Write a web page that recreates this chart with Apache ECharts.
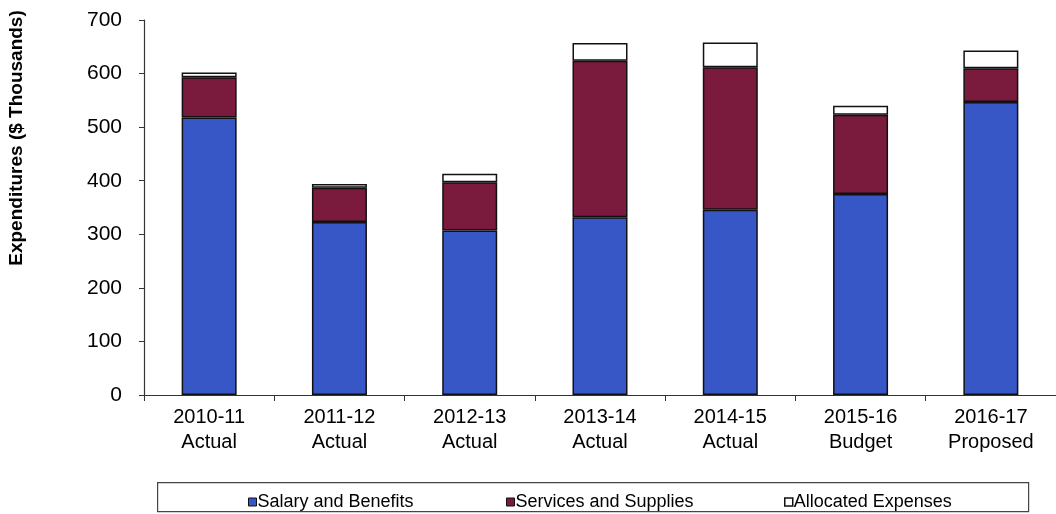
<!DOCTYPE html>
<html>
<head>
<meta charset="utf-8">
<script src="https://cdn.jsdelivr.net/npm/echarts@6/dist/echarts.min.js"></script>
<style>
  html, body { margin: 0; padding: 0; background: #fff; }
  #chart { width: 1056px; height: 514px; }
</style>
</head>
<body>
<div id="chart"></div>
<script>
// Fiscal years and their status
const categories = ['2010-11\nActual', '2011-12\nActual', '2012-13\nActual', '2013-14\nActual',
                    '2014-15\nActual', '2015-16\nBudget', '2016-17\nProposed'];
// Expenditures in $ thousands, stacked per year
const salaryAndBenefits   = [518, 323, 307, 332, 346, 375, 547];
const servicesAndSupplies = [75, 64, 90, 292, 266, 148, 63];
const allocatedExpenses   = [9, 7, 16, 33, 46, 17, 33];
const yTicks = [0, 100, 200, 300, 400, 500, 600, 700];

const FONT = '"Liberation Sans", Arial, sans-serif';
const chart = echarts.init(document.getElementById('chart'));

function barSeries(name, data, color) {
  return {
    name, type: 'bar', stack: 'total', data,
    barWidth: 55,
    itemStyle: { color, borderColor: '#111', borderWidth: 1.5 },
    emphasis: { disabled: true }
  };
}

const legendBase = {
  top: 488, itemWidth: 8, itemHeight: 8, icon: 'rect',
  textStyle: { fontFamily: FONT, fontSize: 18, color: '#000', padding: [0, 0, 0, -4] },
  selectedMode: false
};

chart.setOption({
  animation: false,
  backgroundColor: '#fff',
  grid: { left: 144, top: 20, bottom: 119, right: -12, containLabel: false },
  xAxis: {
    type: 'category', data: categories,
    axisLine: { lineStyle: { color: '#333', width: 1.2 } },
    axisTick: { show: true, length: 6, lineStyle: { color: '#333' } },
    axisLabel: { fontFamily: FONT, fontSize: 20, color: '#000', lineHeight: 25, margin: 10 }
  },
  yAxis: {
    type: 'value', min: yTicks[0], max: yTicks[yTicks.length - 1], interval: 100,
    splitLine: { show: false },
    axisLine: { show: true, lineStyle: { color: '#333', width: 1.2 } },
    axisTick: { show: true, length: 5, lineStyle: { color: '#333' } },
    axisLabel: { fontFamily: FONT, fontSize: 21, color: '#000', margin: 22 }
  },
  legend: [
    Object.assign({}, legendBase, { left: 243, data: [{ name: 'Salary and Benefits', itemStyle: { borderColor: '#111', borderWidth: 1 } }] }),
    Object.assign({}, legendBase, { left: 501, data: [{ name: 'Services and Supplies', itemStyle: { borderColor: '#111', borderWidth: 1 } }] }),
    Object.assign({}, legendBase, { left: 779, data: [{ name: 'Allocated Expenses', itemStyle: { borderColor: '#111', borderWidth: 1.5 } }] })
  ],
  graphic: [
    {
      type: 'rect', left: 157, top: 482, z: -1,
      shape: { width: 871, height: 29 },
      style: { fill: '#fff', stroke: '#444', lineWidth: 1.2 }
    },
    {
      type: 'text', x: 17, y: 138, rotation: Math.PI / 2,
      style: {
        text: 'Expenditures ($ Thousands)', fontFamily: FONT, fontSize: 19, fontWeight: 'bold',
        fill: '#000', align: 'center', verticalAlign: 'middle'
      }
    }
  ],
  series: [
    barSeries('Salary and Benefits', salaryAndBenefits, '#3757c6'),
    barSeries('Services and Supplies', servicesAndSupplies, '#7a1a3c'),
    barSeries('Allocated Expenses', allocatedExpenses, '#ffffff')
  ]
});
</script>
</body>
</html>
